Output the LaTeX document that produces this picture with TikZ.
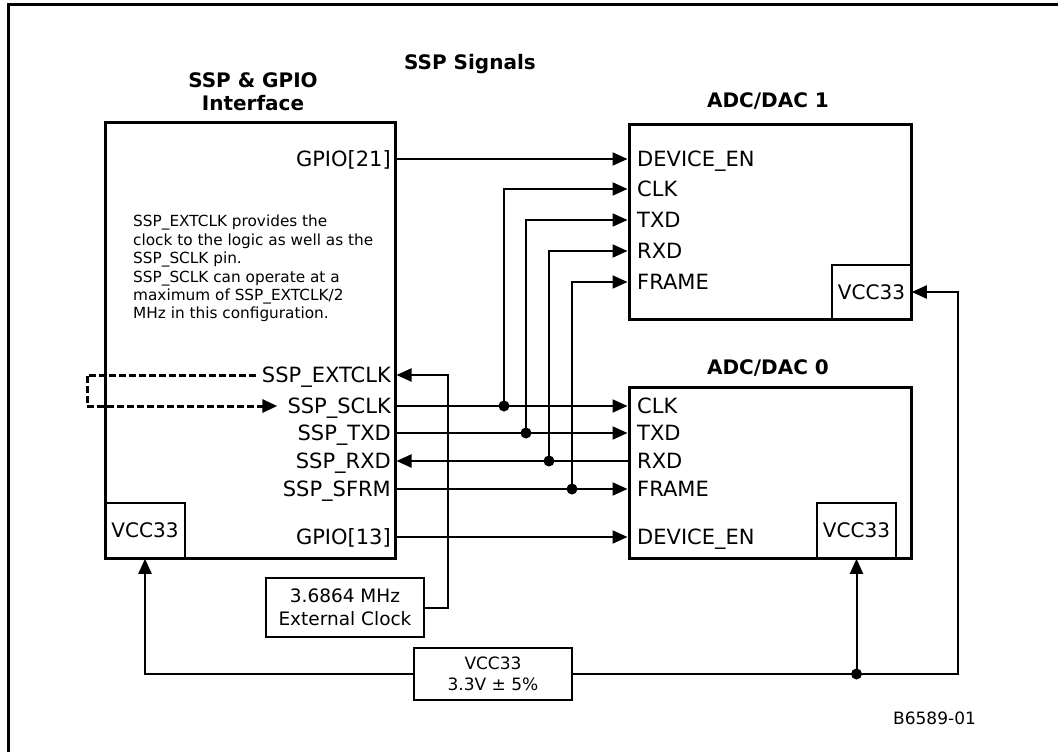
\documentclass[tikz,border=0pt]{standalone}
\usepackage{fontspec}
\setmainfont{DejaVu Sans}
\usepackage{tikz}
\usetikzlibrary{arrows.meta, positioning, calc}
\tikzset{
  chip/.style={rectangle, draw, line width=3pt, inner sep=0pt},
  subbox/.style={rectangle, draw, line width=1.5pt, inner sep=0pt,
    font=\fontsize{20}{24}\selectfont},
  infobox/.style={rectangle, draw, line width=1.5pt, inner sep=0pt, align=center},
  pinl/.style={anchor=east, inner sep=0pt, text height=15pt, text depth=0pt,
    font=\fontsize{21}{24}\selectfont},
  pinr/.style={anchor=west, inner sep=0pt, text height=15pt, text depth=0pt,
    font=\fontsize{21}{24}\selectfont},
  hdr/.style={inner sep=0pt, align=center, font=\bfseries\fontsize{20}{23}\selectfont},
  sig/.style={line width=2pt, -{Triangle[length=15pt,width=13pt]}},
  wire/.style={line width=2pt},
  loopwire/.style={line width=3pt, dash pattern=on 7pt off 3pt,
    -{Triangle[length=15pt,width=13pt]}},
  jdot/.style={circle, fill, inner sep=0pt, minimum size=11pt}
}

\begin{document}
\begin{tikzpicture}[x=1pt, y=-1pt]
  \useasboundingbox (0,0) rectangle (1058,752);
  % frame
  \draw[line width=3pt] (8,5) rectangle (1090,790);
  % headings
  \node[hdr, text height=14.6pt, text depth=0pt] (ttl) at (470,62) {SSP Signals};
  \node[hdr] (sspttl) at (253,91.5) {SSP \& GPIO\\Interface};
  \node[hdr, text height=14.6pt, text depth=0pt] (a1ttl) at (768,100) {ADC/DAC 1};
  \node[hdr, text height=14.6pt, text depth=0pt] (a0ttl) at (768,367) {ADC/DAC 0};

  % blocks
  \node[chip, minimum width=290pt, minimum height=436pt] (ssp) at (250,340) {};
  \node[chip, minimum width=282pt, minimum height=195pt] (adc1) at (770,221.5) {};
  \node[chip, minimum width=282pt, minimum height=171pt] (adc0) at (770,472.5) {};
  \node[subbox, minimum width=80pt, minimum height=55pt] (vcca) at (145,530.5) {VCC33};
  \node[subbox, minimum width=79pt, minimum height=54pt] (vccb) at (871.5,292) {VCC33};
  \node[subbox, minimum width=79pt, minimum height=55pt] (vccc) at (856.5,530.5) {VCC33};
  \node[infobox, minimum width=158pt, minimum height=59pt,
        font=\fontsize{18.5}{23}\selectfont] (xtal) at (345,607.5) {3.6864 MHz\\External Clock};
  \node[infobox, minimum width=158pt, minimum height=52pt,
        font=\fontsize{17}{21}\selectfont] (supply) at (493,674) {VCC33\\3.3V ± 5\%};

  % note
  \node[anchor=north west, inner sep=0pt, align=left,
        font=\fontsize{15.3}{18.4}\selectfont] (note) at (133,215)
    {SSP\_EXTCLK provides the\\clock to the logic as well as the\\SSP\_SCLK pin.\\
     SSP\_SCLK can operate at a\\maximum of SSP\_EXTCLK/2\\MHz in this configuration.};

  % SSP pins
  \node[pinl] (p21) at (391,159) {GPIO[21]};
  \node[pinl] (pext) at (391,375) {SSP\_EXTCLK};
  \node[pinl] (psclk) at (391,406) {SSP\_SCLK};
  \node[pinl] (ptxd) at (391,433) {SSP\_TXD};
  \node[pinl] (prxd) at (391,461) {SSP\_RXD};
  \node[pinl] (psfrm) at (391,489) {SSP\_SFRM};
  \node[pinl] (p13) at (391,537) {GPIO[13]};

  % ADC/DAC 1 pins
  \node[pinr] (a1en) at (637,159) {DEVICE\_EN};
  \node[pinr] (a1clk) at (637,189) {CLK};
  \node[pinr] (a1txd) at (637,220) {TXD};
  \node[pinr] (a1rxd) at (637,251) {RXD};
  \node[pinr] (a1frm) at (637,282) {FRAME};

  % ADC/DAC 0 pins
  \node[pinr] (a0clk) at (637,406) {CLK};
  \node[pinr] (a0txd) at (637,433) {TXD};
  \node[pinr] (a0rxd) at (637,461) {RXD};
  \node[pinr] (a0frm) at (637,489) {FRAME};
  \node[pinr] (a0en) at (637,537) {DEVICE\_EN};

  \node[anchor=west, inner sep=0pt, font=\fontsize{17}{20}\selectfont] (fig) at (893,718) {B6589-01};

  % bus
  \draw[sig] (ssp.east |- p21) -- (a1en -| adc1.west);
  \draw[sig] (ssp.east |- psclk) -- (a0clk -| adc0.west);
  \draw[sig] (ssp.east |- ptxd) -- (a0txd -| adc0.west);
  \draw[sig] (a0rxd -| adc0.west) -- (ssp.east |- prxd);
  \draw[sig] (ssp.east |- psfrm) -- (a0frm -| adc0.west);
  \draw[sig] (ssp.east |- p13) -- (a0en -| adc0.west);

  % taps to ADC/DAC 1
  \node[jdot] (jclk) at (504,406) {};
  \node[jdot] (jtxd) at (526,433) {};
  \node[jdot] (jrxd) at (549,461) {};
  \node[jdot] (jfrm) at (572,489) {};
  \draw[sig] (jclk.center) |- (a1clk -| adc1.west);
  \draw[sig] (jtxd.center) |- (a1txd -| adc1.west);
  \draw[sig] (jrxd.center) |- (a1rxd -| adc1.west);
  \draw[sig] (jfrm.center) |- (a1frm -| adc1.west);

  % clock
  \draw[sig] (xtal.east) -- ++(23,0) |- (ssp.east |- pext);
  \draw[loopwire] ([xshift=-6pt]pext.west) -- (87,375) |- ([xshift=-10pt]psclk.west);

  % power
  \coordinate (rt) at (958,674);
  \node[jdot] (jv) at (vccc.south |- supply.east) {};
  \draw[sig] (supply.west) -| (vcca.south);
  \draw[sig] (supply.east) -- (rt) |- (vccb.east);
  \draw[sig] (jv.center) -- (vccc.south);
\end{tikzpicture}
\end{document}
